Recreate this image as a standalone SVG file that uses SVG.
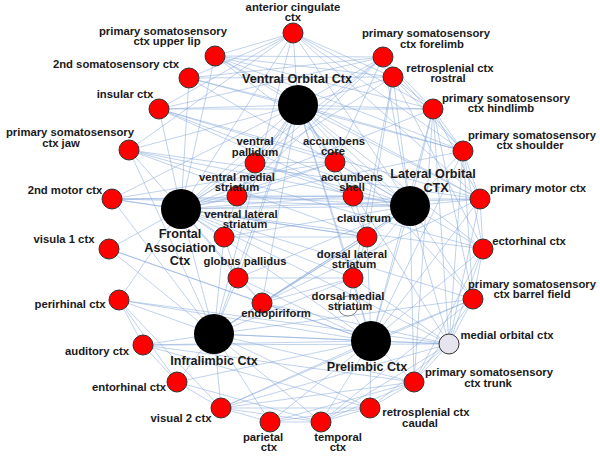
<svg xmlns="http://www.w3.org/2000/svg" width="600" height="457" viewBox="0 0 600 457">
<style>
.e line{stroke:#86a8da;stroke-opacity:.55;stroke-width:0.95}
.hub{fill:#000}
.r{fill:#f00;stroke:#333;stroke-width:1}
.t{font-family:"Liberation Sans",Arial,sans-serif;font-weight:bold;font-size:11.3px;fill:#1a1a1a;text-anchor:middle}
.h{font-size:12.6px}
</style>
<rect width="600" height="457" fill="#fff"/>
<g id="connectors" class="e">
<line x1="298" y1="105" x2="293" y2="33"/><line x1="298" y1="105" x2="215" y2="56"/><line x1="298" y1="105" x2="189" y2="78"/><line x1="298" y1="105" x2="159" y2="109"/><line x1="298" y1="105" x2="129" y2="150"/><line x1="298" y1="105" x2="112" y2="199"/><line x1="298" y1="105" x2="383" y2="57"/><line x1="298" y1="105" x2="393" y2="77"/><line x1="298" y1="105" x2="433" y2="109"/><line x1="298" y1="105" x2="463" y2="151"/><line x1="298" y1="105" x2="480" y2="199"/><line x1="298" y1="105" x2="255" y2="163"/><line x1="298" y1="105" x2="335" y2="162"/><line x1="298" y1="105" x2="237" y2="196"/><line x1="298" y1="105" x2="353" y2="196"/><line x1="298" y1="105" x2="367" y2="237"/><line x1="298" y1="105" x2="224" y2="237"/><line x1="298" y1="105" x2="238" y2="278"/><line x1="298" y1="105" x2="262" y2="303"/><line x1="298" y1="105" x2="410" y2="206"/><line x1="298" y1="105" x2="181" y2="209"/><line x1="298" y1="105" x2="449" y2="344"/><line x1="298" y1="105" x2="473" y2="299"/><line x1="298" y1="105" x2="483" y2="249"/><line x1="298" y1="105" x2="353" y2="278"/><line x1="298" y1="105" x2="214" y2="334"/><line x1="298" y1="105" x2="371" y2="341"/>
<line x1="181" y1="209" x2="215" y2="56"/><line x1="181" y1="209" x2="189" y2="78"/><line x1="181" y1="209" x2="159" y2="109"/><line x1="181" y1="209" x2="129" y2="150"/><line x1="181" y1="209" x2="112" y2="199"/><line x1="181" y1="209" x2="109" y2="249"/><line x1="181" y1="209" x2="119" y2="300"/><line x1="181" y1="209" x2="255" y2="163"/><line x1="181" y1="209" x2="237" y2="196"/><line x1="181" y1="209" x2="224" y2="237"/><line x1="181" y1="209" x2="238" y2="278"/><line x1="181" y1="209" x2="262" y2="303"/><line x1="181" y1="209" x2="335" y2="162"/><line x1="181" y1="209" x2="353" y2="196"/><line x1="181" y1="209" x2="367" y2="237"/><line x1="181" y1="209" x2="353" y2="278"/><line x1="181" y1="209" x2="410" y2="206"/><line x1="181" y1="209" x2="480" y2="199"/><line x1="181" y1="209" x2="463" y2="151"/><line x1="181" y1="209" x2="433" y2="109"/><line x1="181" y1="209" x2="393" y2="77"/><line x1="181" y1="209" x2="383" y2="57"/><line x1="181" y1="209" x2="293" y2="33"/><line x1="181" y1="209" x2="214" y2="334"/><line x1="181" y1="209" x2="371" y2="341"/><line x1="181" y1="209" x2="449" y2="344"/><line x1="181" y1="209" x2="483" y2="249"/><line x1="181" y1="209" x2="473" y2="299"/>
<line x1="410" y1="206" x2="293" y2="33"/><line x1="410" y1="206" x2="215" y2="56"/><line x1="410" y1="206" x2="189" y2="78"/><line x1="410" y1="206" x2="159" y2="109"/><line x1="410" y1="206" x2="129" y2="150"/><line x1="410" y1="206" x2="112" y2="199"/><line x1="410" y1="206" x2="383" y2="57"/><line x1="410" y1="206" x2="393" y2="77"/><line x1="410" y1="206" x2="433" y2="109"/><line x1="410" y1="206" x2="463" y2="151"/><line x1="410" y1="206" x2="480" y2="199"/><line x1="410" y1="206" x2="483" y2="249"/><line x1="410" y1="206" x2="473" y2="299"/><line x1="410" y1="206" x2="449" y2="344"/><line x1="410" y1="206" x2="414" y2="382"/><line x1="410" y1="206" x2="335" y2="162"/><line x1="410" y1="206" x2="353" y2="196"/><line x1="410" y1="206" x2="367" y2="237"/><line x1="410" y1="206" x2="353" y2="278"/><line x1="410" y1="206" x2="237" y2="196"/><line x1="410" y1="206" x2="255" y2="163"/><line x1="410" y1="206" x2="224" y2="237"/><line x1="410" y1="206" x2="238" y2="278"/><line x1="410" y1="206" x2="371" y2="341"/><line x1="410" y1="206" x2="214" y2="334"/><line x1="410" y1="206" x2="262" y2="303"/>
<line x1="214" y1="334" x2="119" y2="300"/><line x1="214" y1="334" x2="143" y2="345"/><line x1="214" y1="334" x2="177" y2="382"/><line x1="214" y1="334" x2="221" y2="408"/><line x1="214" y1="334" x2="270" y2="422"/><line x1="214" y1="334" x2="321" y2="422"/><line x1="214" y1="334" x2="370" y2="408"/><line x1="214" y1="334" x2="414" y2="382"/><line x1="214" y1="334" x2="449" y2="344"/><line x1="214" y1="334" x2="262" y2="303"/><line x1="214" y1="334" x2="238" y2="278"/><line x1="214" y1="334" x2="224" y2="237"/><line x1="214" y1="334" x2="353" y2="278"/><line x1="214" y1="334" x2="367" y2="237"/><line x1="214" y1="334" x2="371" y2="341"/><line x1="214" y1="334" x2="109" y2="249"/><line x1="214" y1="334" x2="112" y2="199"/><line x1="214" y1="334" x2="129" y2="150"/><line x1="214" y1="334" x2="293" y2="33"/><line x1="214" y1="334" x2="473" y2="299"/>
<line x1="371" y1="341" x2="449" y2="344"/><line x1="371" y1="341" x2="414" y2="382"/><line x1="371" y1="341" x2="370" y2="408"/><line x1="371" y1="341" x2="321" y2="422"/><line x1="371" y1="341" x2="270" y2="422"/><line x1="371" y1="341" x2="221" y2="408"/><line x1="371" y1="341" x2="177" y2="382"/><line x1="371" y1="341" x2="143" y2="345"/><line x1="371" y1="341" x2="119" y2="300"/><line x1="371" y1="341" x2="262" y2="303"/><line x1="371" y1="341" x2="353" y2="278"/><line x1="371" y1="341" x2="348" y2="306"/><line x1="371" y1="341" x2="367" y2="237"/><line x1="371" y1="341" x2="473" y2="299"/><line x1="371" y1="341" x2="483" y2="249"/><line x1="371" y1="341" x2="480" y2="199"/><line x1="371" y1="341" x2="463" y2="151"/><line x1="371" y1="341" x2="433" y2="109"/><line x1="371" y1="341" x2="238" y2="278"/>
<line x1="293" y1="33" x2="215" y2="56"/><line x1="293" y1="33" x2="393" y2="77"/><line x1="293" y1="33" x2="433" y2="109"/><line x1="293" y1="33" x2="159" y2="109"/><line x1="293" y1="33" x2="189" y2="78"/><line x1="293" y1="33" x2="129" y2="150"/><line x1="293" y1="33" x2="480" y2="199"/><line x1="293" y1="33" x2="463" y2="151"/>
<line x1="215" y1="56" x2="383" y2="57"/><line x1="215" y1="56" x2="393" y2="77"/><line x1="215" y1="56" x2="433" y2="109"/><line x1="215" y1="56" x2="463" y2="151"/><line x1="215" y1="56" x2="480" y2="199"/>
<line x1="189" y1="78" x2="383" y2="57"/><line x1="189" y1="78" x2="393" y2="77"/><line x1="189" y1="78" x2="463" y2="151"/>
<line x1="159" y1="109" x2="383" y2="57"/><line x1="159" y1="109" x2="433" y2="109"/><line x1="159" y1="109" x2="480" y2="199"/><line x1="159" y1="109" x2="335" y2="162"/><line x1="159" y1="109" x2="353" y2="196"/>
<line x1="129" y1="150" x2="480" y2="199"/><line x1="129" y1="150" x2="483" y2="249"/><line x1="129" y1="150" x2="367" y2="237"/>
<line x1="112" y1="199" x2="480" y2="199"/><line x1="112" y1="199" x2="367" y2="237"/><line x1="112" y1="199" x2="353" y2="196"/><line x1="112" y1="199" x2="335" y2="162"/>
<line x1="109" y1="249" x2="262" y2="303"/><line x1="109" y1="249" x2="371" y2="341"/>
<line x1="119" y1="300" x2="143" y2="345"/><line x1="119" y1="300" x2="177" y2="382"/><line x1="119" y1="300" x2="221" y2="408"/><line x1="119" y1="300" x2="449" y2="344"/>
<line x1="143" y1="345" x2="177" y2="382"/><line x1="143" y1="345" x2="449" y2="344"/><line x1="143" y1="345" x2="370" y2="408"/><line x1="143" y1="345" x2="414" y2="382"/>
<line x1="177" y1="382" x2="221" y2="408"/><line x1="177" y1="382" x2="321" y2="422"/>
<line x1="221" y1="408" x2="270" y2="422"/><line x1="221" y1="408" x2="321" y2="422"/><line x1="221" y1="408" x2="370" y2="408"/><line x1="221" y1="408" x2="414" y2="382"/><line x1="221" y1="408" x2="449" y2="344"/><line x1="221" y1="408" x2="473" y2="299"/>
<line x1="270" y1="422" x2="321" y2="422"/><line x1="270" y1="422" x2="414" y2="382"/><line x1="270" y1="422" x2="370" y2="408"/>
<line x1="321" y1="422" x2="370" y2="408"/><line x1="321" y1="422" x2="414" y2="382"/><line x1="321" y1="422" x2="449" y2="344"/><line x1="321" y1="422" x2="473" y2="299"/>
<line x1="370" y1="408" x2="414" y2="382"/><line x1="370" y1="408" x2="449" y2="344"/>
<line x1="414" y1="382" x2="449" y2="344"/><line x1="414" y1="382" x2="473" y2="299"/><line x1="414" y1="382" x2="483" y2="249"/><line x1="414" y1="382" x2="433" y2="109"/>
<line x1="449" y1="344" x2="473" y2="299"/><line x1="449" y1="344" x2="483" y2="249"/><line x1="449" y1="344" x2="480" y2="199"/><line x1="449" y1="344" x2="463" y2="151"/><line x1="449" y1="344" x2="433" y2="109"/><line x1="449" y1="344" x2="262" y2="303"/><line x1="449" y1="344" x2="353" y2="278"/>
<line x1="473" y1="299" x2="483" y2="249"/><line x1="473" y1="299" x2="463" y2="151"/><line x1="473" y1="299" x2="433" y2="109"/>
<line x1="483" y1="249" x2="480" y2="199"/><line x1="483" y1="249" x2="463" y2="151"/><line x1="483" y1="249" x2="393" y2="77"/>
<line x1="480" y1="199" x2="463" y2="151"/><line x1="480" y1="199" x2="433" y2="109"/>
<line x1="463" y1="151" x2="433" y2="109"/><line x1="463" y1="151" x2="393" y2="77"/><line x1="463" y1="151" x2="383" y2="57"/>
<line x1="433" y1="109" x2="393" y2="77"/><line x1="433" y1="109" x2="383" y2="57"/>
<line x1="393" y1="77" x2="383" y2="57"/><line x1="393" y1="77" x2="367" y2="237"/><line x1="393" y1="77" x2="353" y2="278"/>
<line x1="383" y1="57" x2="335" y2="162"/><line x1="383" y1="57" x2="237" y2="196"/><line x1="383" y1="57" x2="255" y2="163"/>
<line x1="255" y1="163" x2="335" y2="162"/><line x1="255" y1="163" x2="237" y2="196"/><line x1="255" y1="163" x2="353" y2="196"/>
<line x1="335" y1="162" x2="353" y2="196"/><line x1="335" y1="162" x2="237" y2="196"/>
<line x1="237" y1="196" x2="224" y2="237"/><line x1="237" y1="196" x2="353" y2="196"/>
<line x1="224" y1="237" x2="238" y2="278"/><line x1="224" y1="237" x2="367" y2="237"/>
<line x1="238" y1="278" x2="262" y2="303"/><line x1="238" y1="278" x2="353" y2="278"/>
<line x1="353" y1="196" x2="367" y2="237"/><line x1="367" y1="237" x2="353" y2="278"/><line x1="353" y1="278" x2="348" y2="306"/>
<line x1="262" y1="303" x2="353" y2="278"/><line x1="262" y1="303" x2="367" y2="237"/><line x1="262" y1="303" x2="480" y2="199"/>
</g>
<g id="n-vo"><circle class="hub" cx="298" cy="105" r="20"/></g>
<g id="n-fa"><circle class="hub" cx="181" cy="209" r="20"/></g>
<g id="n-lo"><circle class="hub" cx="410" cy="206" r="20"/></g>
<g id="n-il"><circle class="hub" cx="214" cy="334" r="20"/></g>
<g id="n-pl"><circle class="hub" cx="371" cy="341" r="20"/></g>
<g id="n-acc"><circle class="r" cx="293" cy="33" r="10"/></g>
<g id="n-ul"><circle class="r" cx="215" cy="56" r="10"/></g>
<g id="n-s2"><circle class="r" cx="189" cy="78" r="10"/></g>
<g id="n-ins"><circle class="r" cx="159" cy="109" r="10"/></g>
<g id="n-jaw"><circle class="r" cx="129" cy="150" r="10"/></g>
<g id="n-m2"><circle class="r" cx="112" cy="199" r="10"/></g>
<g id="n-v1"><circle class="r" cx="109" cy="249" r="10"/></g>
<g id="n-prh"><circle class="r" cx="119" cy="300" r="10"/></g>
<g id="n-aud"><circle class="r" cx="143" cy="345" r="10"/></g>
<g id="n-ent"><circle class="r" cx="177" cy="382" r="10"/></g>
<g id="n-v2"><circle class="r" cx="221" cy="408" r="10"/></g>
<g id="n-par"><circle class="r" cx="270" cy="422" r="10"/></g>
<g id="n-tem"><circle class="r" cx="321" cy="422" r="10"/></g>
<g id="n-rsc"><circle class="r" cx="370" cy="408" r="10"/></g>
<g id="n-trunk"><circle class="r" cx="414" cy="382" r="10"/></g>
<g id="n-mo"><circle cx="449" cy="344" r="10" fill="#e6e4ee" stroke="#333" stroke-width="1"/></g>
<g id="n-bf"><circle class="r" cx="473" cy="299" r="10"/></g>
<g id="n-ect"><circle class="r" cx="483" cy="249" r="10"/></g>
<g id="n-m1"><circle class="r" cx="480" cy="199" r="10"/></g>
<g id="n-sh"><circle class="r" cx="463" cy="151" r="10"/></g>
<g id="n-hl"><circle class="r" cx="433" cy="109" r="10"/></g>
<g id="n-rsr"><circle class="r" cx="393" cy="77" r="10"/></g>
<g id="n-fl"><circle class="r" cx="383" cy="57" r="10"/></g>
<g id="n-vp"><circle class="r" cx="255" cy="163" r="10"/></g>
<g id="n-core"><circle class="r" cx="335" cy="162" r="10"/></g>
<g id="n-vms"><circle class="r" cx="237" cy="196" r="10"/></g>
<g id="n-shell"><circle class="r" cx="353" cy="196" r="10"/></g>
<g id="n-vls"><circle class="r" cx="224" cy="237" r="10"/></g>
<g id="n-cla"><circle class="r" cx="367" cy="237" r="10"/></g>
<g id="n-gp"><circle class="r" cx="238" cy="278" r="10"/></g>
<g id="n-dls"><circle class="r" cx="353" cy="278" r="10"/></g>
<g id="n-endo"><circle class="r" cx="262" cy="303" r="10"/></g>
<g id="n-dms"><circle cx="348" cy="306" r="10" fill="#fff" stroke="#666" stroke-width="0.8"/></g>
<g id="labels">
<text class="t" x="293" y="11">anterior cingulate</text><text class="t" x="293" y="21">ctx</text>
<text class="t" x="163" y="35">primary somatosensory</text><text class="t" x="167" y="45">ctx upper lip</text>
<text class="t" x="116" y="68">2nd somatosensory ctx</text>
<text class="t" x="125" y="98">insular ctx</text>
<text class="t" x="70" y="136">primary somatosensory</text><text class="t" x="61" y="147">ctx jaw</text>
<text class="t" x="426" y="37">primary somatosensory</text><text class="t" x="432" y="48">ctx forelimb</text>
<text class="t" x="450" y="72">retrosplenial ctx</text><text class="t" x="448" y="82">rostral</text>
<text class="t" x="506" y="102">primary somatosensory</text><text class="t" x="501" y="112">ctx hindlimb</text>
<text class="t" x="532" y="139">primary somatosensory</text><text class="t" x="530" y="149">ctx shoulder</text>
<text class="t h" x="297" y="83">Ventral Orbital Ctx</text>
<text class="t" x="334" y="145">accumbens</text><text class="t" x="333" y="155">core</text>
<text class="t" x="255" y="145">ventral</text><text class="t" x="255" y="156">pallidum</text>
<text class="t" x="237" y="181">ventral medial</text><text class="t" x="237" y="191">striatum</text>
<text class="t" x="352" y="181">accumbens</text><text class="t" x="352" y="191">shell</text>
<text class="t" x="65" y="194">2nd motor ctx</text>
<text class="t h" x="180" y="238">Frontal</text><text class="t h" x="180" y="252">Association</text><text class="t h" x="180" y="265">Ctx</text>
<text class="t h" x="433" y="178">Lateral Orbital</text><text class="t h" x="436" y="192">CTX</text>
<text class="t" x="538" y="192">primary motor ctx</text>
<text class="t" x="241" y="218">ventral lateral</text><text class="t" x="245" y="228">striatum</text>
<text class="t" x="364" y="222">claustrum</text>
<text class="t" x="64" y="243">visula 1 ctx</text>
<text class="t" x="529" y="245">ectorhinal ctx</text>
<text class="t" x="245" y="265">globus pallidus</text>
<text class="t" x="352" y="258">dorsal lateral</text><text class="t" x="354" y="268">striatum</text>
<text class="t" x="532" y="288">primary somatosensory</text><text class="t" x="532" y="298">ctx barrel field</text>
<text class="t" x="348" y="300">dorsal medial</text><text class="t" x="350" y="310">striatum</text>
<text class="t" x="70" y="308">perirhinal ctx</text>
<text class="t" x="276" y="317">endopiriform</text>
<text class="t" x="507" y="339">medial orbital ctx</text>
<text class="t" x="97" y="355">auditory ctx</text>
<text class="t h" x="214" y="365">Infralimbic Ctx</text>
<text class="t h" x="367" y="371">Prelimbic Ctx</text>
<text class="t" x="489" y="376">primary somatosensory</text><text class="t" x="488" y="387">ctx trunk</text>
<text class="t" x="129" y="391">entorhinal ctx</text>
<text class="t" x="181" y="422">visual 2 ctx</text>
<text class="t" x="426" y="416">retrosplenial ctx</text><text class="t" x="420" y="427">caudal</text>
<text class="t" x="263" y="441">parietal</text><text class="t" x="269" y="451">ctx</text>
<text class="t" x="338" y="441">temporal</text><text class="t" x="338" y="451">ctx</text>
</g>
</svg>
